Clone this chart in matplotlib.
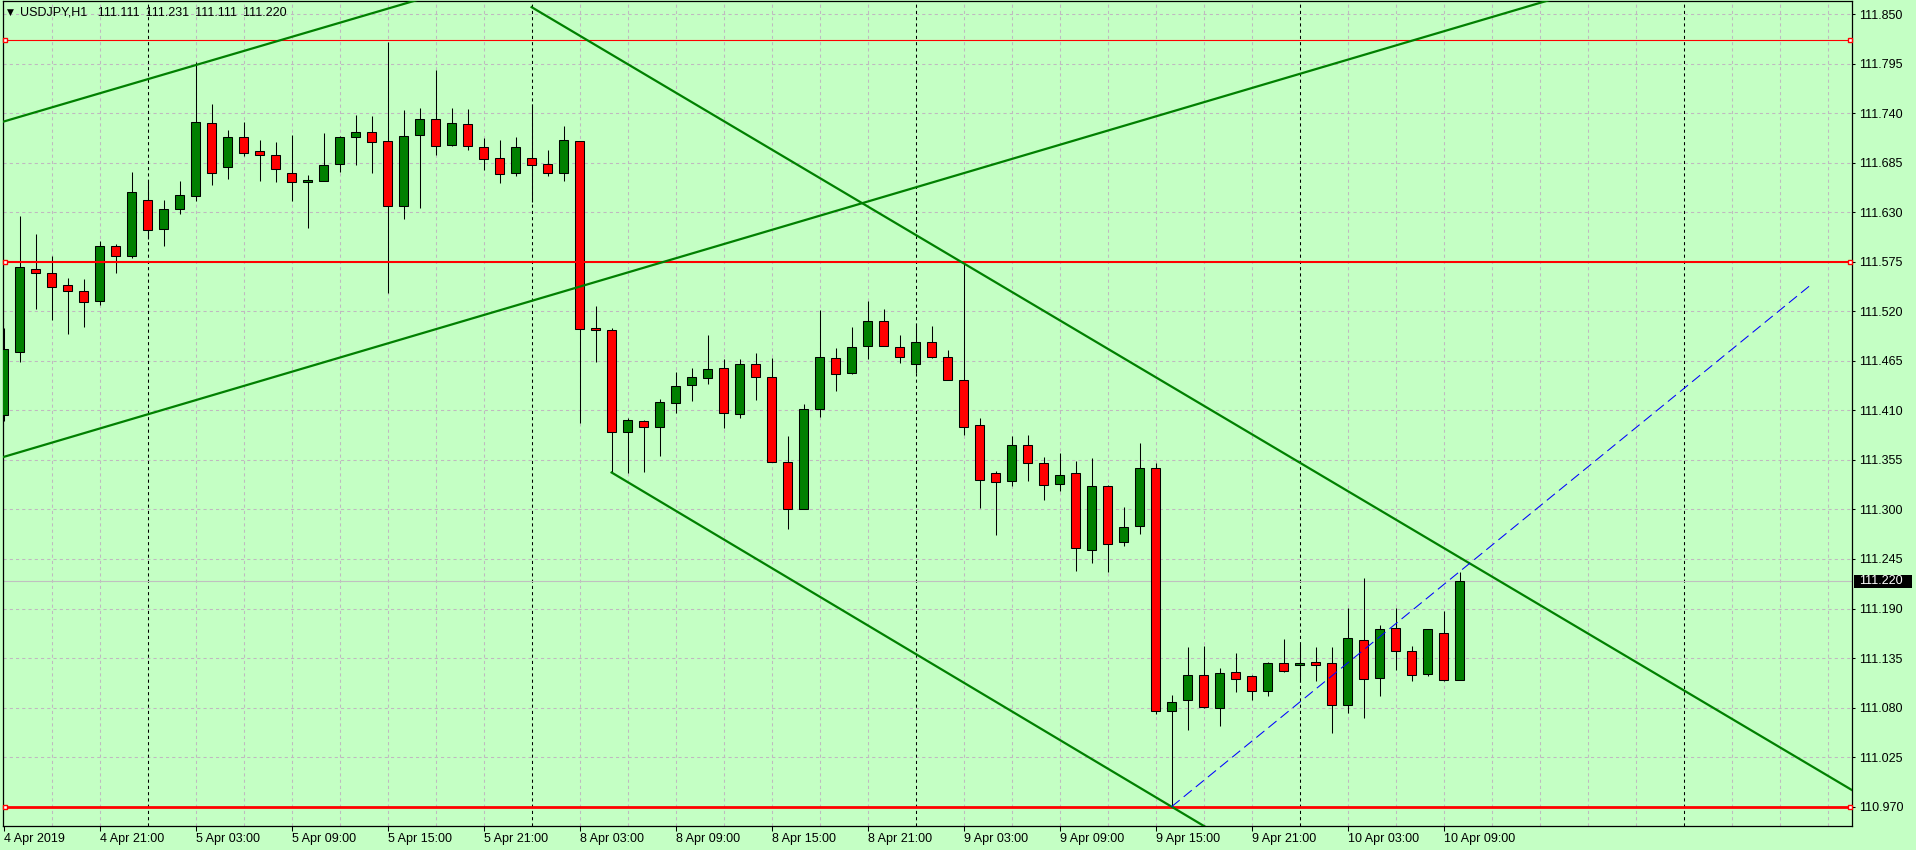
"""
USDJPY H1 candlestick chart in the style of a MetaTrader terminal window.
"""

import matplotlib
matplotlib.use("Agg")
import matplotlib.pyplot as plt
import matplotlib.patches as mpatches

plt.rcParams["font.family"] = ["Liberation Sans", "DejaVu Sans"]

# ---- data -----------------------------------------------------------------
# hourly bars, first bar = 4 Apr 2019 15:00, last bar = 10 Apr 2019 10:00
opens = [
    111.405, 111.475, 111.567, 111.562, 111.549, 111.543, 111.531, 111.592, 111.581, 111.643,
    111.611, 111.633, 111.648, 111.729, 111.680, 111.714, 111.698, 111.693, 111.674, 111.663,
    111.665, 111.684, 111.713, 111.719, 111.709, 111.637, 111.716, 111.733, 111.705, 111.728,
    111.702, 111.690, 111.674, 111.690, 111.684, 111.674, 111.709, 111.501, 111.499, 111.386,
    111.398, 111.391, 111.418, 111.438, 111.446, 111.457, 111.406, 111.461, 111.447, 111.353,
    111.301, 111.412, 111.468, 111.451, 111.481, 111.509, 111.480, 111.462, 111.486, 111.469,
    111.444, 111.394, 111.341, 111.332, 111.372, 111.352, 111.328, 111.341, 111.255, 111.326,
    111.264, 111.282, 111.346, 111.076, 111.088, 111.116, 111.080, 111.119, 111.115, 111.098,
    111.130, 111.127, 111.131, 111.130, 111.083, 111.155, 111.113, 111.168, 111.143, 111.117,
    111.163, 111.111,
]
highs = [
    111.501, 111.626, 111.606, 111.581, 111.557, 111.556, 111.598, 111.595, 111.675, 111.666,
    111.644, 111.665, 111.797, 111.750, 111.721, 111.730, 111.710, 111.708, 111.716, 111.671,
    111.718, 111.715, 111.738, 111.737, 111.819, 111.743, 111.746, 111.788, 111.746, 111.745,
    111.712, 111.710, 111.714, 111.750, 111.699, 111.726, 111.709, 111.526, 111.501, 111.402,
    111.399, 111.423, 111.453, 111.457, 111.494, 111.467, 111.467, 111.474, 111.468, 111.382,
    111.417, 111.521, 111.479, 111.502, 111.531, 111.522, 111.494, 111.506, 111.504, 111.477,
    111.575, 111.401, 111.343, 111.381, 111.383, 111.358, 111.363, 111.354, 111.357, 111.327,
    111.303, 111.374, 111.352, 111.094, 111.147, 111.148, 111.124, 111.141, 111.116, 111.131,
    111.156, 111.151, 111.147, 111.147, 111.191, 111.224, 111.172, 111.191, 111.148, 111.167,
    111.187, 111.231,
]
lows = [
    111.398, 111.464, 111.522, 111.510, 111.495, 111.503, 111.527, 111.563, 111.579, 111.600,
    111.592, 111.628, 111.642, 111.660, 111.667, 111.692, 111.665, 111.664, 111.642, 111.612,
    111.665, 111.675, 111.682, 111.673, 111.540, 111.622, 111.635, 111.693, 111.703, 111.699,
    111.677, 111.662, 111.670, 111.641, 111.670, 111.665, 111.396, 111.464, 111.341, 111.340,
    111.342, 111.359, 111.407, 111.420, 111.439, 111.390, 111.401, 111.421, 111.353, 111.278,
    111.300, 111.403, 111.431, 111.450, 111.467, 111.481, 111.463, 111.451, 111.468, 111.444,
    111.383, 111.302, 111.272, 111.326, 111.332, 111.310, 111.320, 111.232, 111.241, 111.231,
    111.259, 111.273, 111.073, 110.970, 111.055, 111.080, 111.060, 111.097, 111.088, 111.093,
    111.120, 111.108, 111.110, 111.052, 111.074, 111.069, 111.093, 111.122, 111.109, 111.115,
    111.110, 111.111,
]
closes = [
    111.478, 111.569, 111.562, 111.547, 111.542, 111.530, 111.593, 111.581, 111.652, 111.610,
    111.633, 111.649, 111.730, 111.674, 111.714, 111.696, 111.693, 111.678, 111.664, 111.666,
    111.682, 111.713, 111.719, 111.708, 111.637, 111.715, 111.733, 111.704, 111.729, 111.703,
    111.689, 111.672, 111.702, 111.682, 111.673, 111.710, 111.500, 111.499, 111.386, 111.399,
    111.391, 111.419, 111.437, 111.447, 111.456, 111.407, 111.462, 111.447, 111.353, 111.301,
    111.411, 111.469, 111.450, 111.480, 111.509, 111.481, 111.469, 111.486, 111.469, 111.444,
    111.392, 111.333, 111.330, 111.372, 111.352, 111.327, 111.338, 111.257, 111.326, 111.262,
    111.281, 111.346, 111.076, 111.086, 111.116, 111.081, 111.118, 111.112, 111.098, 111.129,
    111.121, 111.130, 111.127, 111.083, 111.157, 111.112, 111.167, 111.143, 111.116, 111.167,
    111.111, 111.220,
]

time_labels = [
    "4 Apr 2019", "4 Apr 21:00", "5 Apr 03:00", "5 Apr 09:00", "5 Apr 15:00", "5 Apr 21:00",
    "8 Apr 03:00", "8 Apr 09:00", "8 Apr 15:00", "8 Apr 21:00", "9 Apr 03:00", "9 Apr 09:00",
    "9 Apr 15:00", "9 Apr 21:00", "10 Apr 03:00", "10 Apr 09:00",
]
day_start_bars = [9, 33, 57, 81, 105]

price_ticks = [round(110.970 + 0.055 * k, 3) for k in range(17)]

# horizontal levels drawn on the chart
level_prices = [111.821, 111.575, 110.970]
level_widths = [0.8, 1.5, 2.0]

# trend lines as (bar, price) anchor pairs
trend_lines = [
    ((0, 111.7306), (24, 111.8559)),      # upper rising
    ((0, 111.3583), (95, 111.8570)),      # lower rising
    ((33, 111.8576), (115.5, 110.9887)),  # falling channel top
    ((38, 111.341), (73, 110.970)),       # falling channel bottom
]
blue_line = ((73, 110.970), (113, 111.550))

symbol_name = "USDJPY,H1"
header_prices = ["111.111", "111.231", "111.111", "111.220"]
last_price = 111.220

# ---- style ----------------------------------------------------------------
BACKGROUND = "#c4ffc4"
GRID_COLOR = "#c0b8c0"
BULL_COLOR = "#008000"
BEAR_COLOR = "#ff0000"
LINE_GREEN = "#008000"
FONT_SIZE = 9
FIG_W, FIG_H = 1916, 850


def draw_candles(axis):
    bars = range(len(opens))
    axis.vlines(bars, lows, highs, color="black", linewidth=0.75, zorder=3)
    body_bottom = [min(o, c) for o, c in zip(opens, closes)]
    body_height = [abs(c - o) for o, c in zip(opens, closes)]
    body_color = [BULL_COLOR if c >= o else BEAR_COLOR for o, c in zip(opens, closes)]
    axis.bar(bars, body_height, bottom=body_bottom, width=0.57, color=body_color,
             edgecolor="black", linewidth=0.75, zorder=4)


def draw_objects(axis):
    for level, width in zip(level_prices, level_widths):
        axis.hlines(level, 0.09, 115.38, color="red", linewidth=width, zorder=6)
        axis.plot([0.09, 115.38], [level, level], linestyle="none", marker="s",
                  markersize=3.2, markerfacecolor="white", markeredgecolor="red",
                  markeredgewidth=1.0, zorder=7, clip_on=False)

    for (x0, y0), (x1, y1) in trend_lines:
        slope = (y1 - y0) / (x1 - x0)
        xs = [x0, 140]
        ys = [y0, y0 + slope * (140 - x0)]
        axis.plot(xs, ys, color=LINE_GREEN, linewidth=1.6, zorder=6)

    (bx0, by0), (bx1, by1) = blue_line
    axis.plot([bx0, bx1], [by0, by1], color="#0000ff", linewidth=0.75,
              dashes=(10, 5), zorder=6)


def draw_price_box(figure, axis):
    # black box on the price scale holding the last price
    y_px = axis.transData.transform((0, last_price))[1]
    box = mpatches.Rectangle((1854 / FIG_W, (y_px - 6.5) / FIG_H), 58 / FIG_W, 13 / FIG_H,
                             transform=figure.transFigure, facecolor="black",
                             edgecolor="none", zorder=10)
    figure.add_artist(box)
    figure.text(1859 / FIG_W, y_px / FIG_H, f"{last_price:.3f}", color="white",
                fontsize=FONT_SIZE, ha="left", va="center", zorder=11)


def main():
    figure = plt.figure(figsize=(FIG_W / 100, FIG_H / 100), dpi=100)
    figure.patch.set_facecolor(BACKGROUND)
    axis = figure.add_axes([2.5 / FIG_W, 24 / FIG_H, 1849.5 / FIG_W, 825.5 / FIG_H])
    axis.set_facecolor(BACKGROUND)

    axis.set_xlim(-0.069, 115.525)
    axis.set_ylim(110.94857, 111.86499)

    # grid: dashed grey every 3 bars, black dotted day separators
    minor_bars = [b for b in range(3, 116, 3) if b not in day_start_bars]
    for b in minor_bars:
        axis.axvline(b, color=GRID_COLOR, linewidth=0.75, dashes=(3, 3), zorder=1)
    for b in day_start_bars:
        axis.axvline(b, color="black", linewidth=0.75, dashes=(3, 3), zorder=2)
    for p in price_ticks:
        axis.axhline(p, color=GRID_COLOR, linewidth=0.75, dashes=(3, 3), zorder=1)

    # current price line
    axis.axhline(last_price, color="#c0c0c0", linewidth=0.8, zorder=2)

    draw_candles(axis)
    draw_objects(axis)

    # axes and ticks
    for spine in axis.spines.values():
        spine.set_color("black")
        spine.set_linewidth(0.9)
    axis.yaxis.tick_right()
    axis.set_yticks(price_ticks)
    axis.set_yticklabels([f"{p:.3f}" for p in price_ticks])
    axis.tick_params(axis="y", direction="out", length=2.5, width=0.75, pad=2.8,
                     labelsize=FONT_SIZE, colors="black")
    tick_bars = list(range(0, 6 * len(time_labels), 6))
    axis.set_xticks(tick_bars)
    axis.set_xticklabels(time_labels, ha="left")
    axis.tick_params(axis="x", direction="out", length=3.6, width=0.75, pad=1.5,
                     labelsize=FONT_SIZE, colors="black")

    draw_price_box(figure, axis)

    # header
    header_y = 1 - 12.5 / FIG_H
    figure.text(7 / FIG_W, header_y, "\u25bc", family="DejaVu Sans", fontsize=6.5,
                ha="left", va="center", color="black")
    header = symbol_name + "   " + " \u2009".join(header_prices)
    figure.text(20.5 / FIG_W, header_y, header, fontsize=FONT_SIZE,
                family=["Liberation Sans", "DejaVu Sans"],
                ha="left", va="center", color="black")

    figure.savefig("out.png", dpi=100, facecolor=BACKGROUND)
    plt.close(figure)


if __name__ == "__main__":
    main()
